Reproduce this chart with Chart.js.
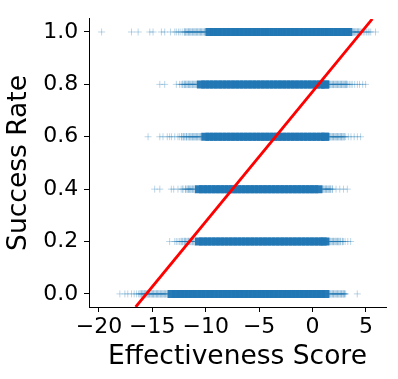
<!DOCTYPE html>
<html>
<head>
<meta charset="utf-8">
<script src="https://cdn.jsdelivr.net/npm/chart.js"></script>
<style>
  body { margin: 0; background: #fff; }
  #wrap { width: 398px; height: 379px; }
</style>
</head>
<body>
<div id="wrap"><canvas id="scoreChart" width="398" height="379"></canvas></div>
<script>
// success-rate levels (y) and tick labels
const levels = [0.0, 0.2, 0.4, 0.6, 0.8, 1.0];
const xTicks = [-20, -15, -10, -5, 0, 5];
const yTicks = [0.0, 0.2, 0.4, 0.6, 0.8, 1.0];

// isolated effectiveness scores per level
const sparse00 = [-18.04, -17.57, -17.3, -16.95, -16.7, -16.48, -16.3, 3.0, 3.1, 4.19];
const sparse02 = [-13.38, -12.9, -12.75, -12.6, -12.45, 2.9, 3.05, 3.3, 3.57];
const sparse04 = [-14.78, -14.3, -13.22, -13.0, -12.6, -12.3, 2.2, 2.55, 2.9, 3.26];
const sparse06 = [-15.4, -14.3, -14.0, -13.6, -13.38, -13.2, -12.9, -12.6, -12.44, 3.1, 3.35, 3.6, 3.9, 4.2, 4.5];
const sparse08 = [-14.3, -13.84, -12.75, -12.45, -12.29, 3.3, 3.45, 3.6, 3.72, 3.95, 4.2, 4.4, 4.7, 4.97];
const sparse10 = [-19.75, -16.95, -16.33, -15.24, -14.93, -14.15, -13.84, -13.3, -12.9, -12.75, -12.55, -12.4, -12.2,
  4.6, 4.75, 4.9, 5.05, 5.2, 5.3, 5.45, 5.9];

// crowded edges of each level
const mid00 = [-16.15, -16.0, -15.88, -15.75, -15.62, -15.5, -15.38, -15.25, -15.12, -15.0, -14.88, -14.75, -14.62, -14.5,
  -14.38, -14.25, -14.12, -14.0, -13.88, -13.75, -13.62,
  1.6, 1.72, 1.85, 1.97, 2.1, 2.22, 2.35, 2.47, 2.6, 2.72, 2.85, 2.95];
const mid02 = [-12.3, -12.15, -12.0, -11.88, -11.75, -11.62, -11.5, -11.38, -11.25, -11.12,
  1.6, 1.72, 1.85, 1.97, 2.1, 2.22, 2.35, 2.47, 2.6, 2.79];
const mid04 = [-12.14, -11.9, -11.75, -11.62, -11.5, -11.38, -11.25, -11.12,
  0.95, 1.07, 1.2, 1.32, 1.45, 1.57, 1.7, 1.86];
const mid06 = [-12.25, -12.1, -11.95, -11.8, -11.65, -11.5, -11.38, -11.25, -11.12, -11.0, -10.88, -10.75, -10.62, -10.5,
  1.6, 1.72, 1.85, 1.97, 2.1, 2.22, 2.35, 2.47, 2.6, 2.72, 2.85, 2.97];
const mid08 = [-12.15, -12.0, -11.88, -11.75, -11.62, -11.5, -11.38, -11.25, -11.12, -11.0, -10.88,
  1.6, 1.72, 1.85, 1.97, 2.1, 2.22, 2.35, 2.47, 2.6, 2.72, 2.85, 2.97, 3.1, 3.2];
const mid10 = [-12.0, -11.88, -11.75, -11.62, -11.5, -11.38, -11.25, -11.12, -11.0, -10.88, -10.75, -10.62, -10.5,
  -10.38, -10.25, -10.12, -10.0, 3.7, 3.82, 3.95, 4.07, 4.2, 4.32, 4.45];

// the densely packed part of each level
const core00 = [-13.2, -12.8, -12.4, -12.0, -11.6, -11.2, -10.8, -10.4, -10.0, -9.6, -9.2, -8.8, -8.4, -8.0, -7.6,
  -7.2, -6.8, -6.4, -6.0, -5.6, -5.2, -4.8, -4.4, -4.0, -3.6, -3.2, -2.8, -2.4, -2.0, -1.6, -1.2, -0.8, -0.4, 0.0,
  0.4, 0.8, 1.2];
const core02 = [-10.65, -10.25, -9.85, -9.45, -9.05, -8.65, -8.25, -7.85, -7.45, -7.05, -6.65, -6.25, -5.85, -5.45,
  -5.05, -4.65, -4.25, -3.85, -3.45, -3.05, -2.65, -2.25, -1.85, -1.45, -1.05, -0.65, -0.25, 0.15, 0.55, 0.95, 1.2];
const core04 = [-10.65, -10.25, -9.85, -9.45, -9.05, -8.65, -8.25, -7.85, -7.45, -7.05, -6.65, -6.25, -5.85, -5.45,
  -5.05, -4.65, -4.25, -3.85, -3.45, -3.05, -2.65, -2.25, -1.85, -1.45, -1.05, -0.65, -0.25, 0.15, 0.55];
const core06 = [-10.05, -9.65, -9.25, -8.85, -8.45, -8.05, -7.65, -7.25, -6.85, -6.45, -6.05, -5.65, -5.25, -4.85,
  -4.45, -4.05, -3.65, -3.25, -2.85, -2.45, -2.05, -1.65, -1.25, -0.85, -0.45, -0.05, 0.35, 0.75, 1.15, 1.2];
const core08 = [-10.45, -10.05, -9.65, -9.25, -8.85, -8.45, -8.05, -7.65, -7.25, -6.85, -6.45, -6.05, -5.65, -5.25,
  -4.85, -4.45, -4.05, -3.65, -3.25, -2.85, -2.45, -2.05, -1.65, -1.25, -0.85, -0.45, -0.05, 0.35, 0.75, 1.15, 1.2];
const core10 = [-9.65, -9.25, -8.85, -8.45, -8.05, -7.65, -7.25, -6.85, -6.45, -6.05, -5.65, -5.25, -4.85, -4.45,
  -4.05, -3.65, -3.25, -2.85, -2.45, -2.05, -1.65, -1.25, -0.85, -0.45, -0.05, 0.35, 0.75, 1.15, 1.55, 1.95, 2.35,
  2.75, 3.15, 3.35];

// fitted line
const fitX = [-16.56, 5.6];
const fitY = [-0.05, 1.05];

const sparseRows = [sparse00, sparse02, sparse04, sparse06, sparse08, sparse10];
const midRows = [mid00, mid02, mid04, mid06, mid08, mid10];
const coreRows = [core00, core02, core04, core06, core08, core10];

const font = 'DejaVu Sans';
const minus = v => (v < 0 ? '\u2212' + Math.abs(v) : String(v));

const datasets = [{
  type: 'line',
  data: fitX.map((x, i) => ({ x: x, y: fitY[i] })),
  borderColor: '#ff0000',
  borderWidth: 2.8,
  pointRadius: 0,
  order: 0
}];

function crosses(xs, lv, radius, width, color, order) {
  return {
    data: xs.map(x => ({ x: x, y: lv })),
    pointStyle: 'cross',
    pointRadius: radius,
    pointBorderWidth: width,
    pointBorderColor: color,
    order: order
  };
}

levels.forEach((lv, i) => {
  // core marks: thick crosses that merge into a solid band
  datasets.push(crosses(coreRows[i], lv, 4, 8, 'rgba(33,119,180,0.97)', 3));
  datasets.push(crosses(midRows[i], lv, 3.7, 1, 'rgba(31,119,180,0.5)', 2));
  datasets.push(crosses(sparseRows[i], lv, 3.5, 1, 'rgba(31,119,180,0.3)', 1));
});

new Chart(document.getElementById('scoreChart').getContext('2d'), {
  type: 'scatter',
  data: { datasets: datasets },
  options: {
    responsive: false,
    animation: false,
    layout: { padding: { top: 10, right: 10, left: 0, bottom: 0 } },
    plugins: { legend: { display: false }, tooltip: { enabled: false } },
    scales: {
      x: {
        type: 'linear',
        min: -20.93,
        max: 6.88,
        afterFit: s => { s.height = 72; },
        afterBuildTicks: s => { s.ticks = xTicks.map(v => ({ value: v })); },
        grid: { drawOnChartArea: false, color: '#000', tickLength: 5 },
        border: { color: '#000', width: 1 },
        ticks: { color: '#000', padding: 1.6, font: { family: font, size: 22 }, callback: v => minus(v), maxRotation: 0 },
        title: { display: true, text: 'Effectiveness Score', color: '#000', font: { family: font, size: 26.5 }, padding: { top: 0, bottom: 6.4 } }
      },
      y: {
        type: 'linear',
        min: -0.05,
        max: 1.05,
        afterFit: s => { s.width = 89; },
        afterBuildTicks: s => { s.ticks = yTicks.map(v => ({ value: v })); },
        grid: { drawOnChartArea: false, color: '#000', tickLength: 5 },
        border: { color: '#000', width: 1 },
        ticks: { color: '#000', padding: 5.7, font: { family: font, size: 22 }, callback: v => v.toFixed(1) },
        title: { display: true, text: 'Success Rate', color: '#000', font: { family: font, size: 26.5 }, padding: { top: 3.5, bottom: 0 } }
      }
    }
  }
});
</script>
</body>
</html>
